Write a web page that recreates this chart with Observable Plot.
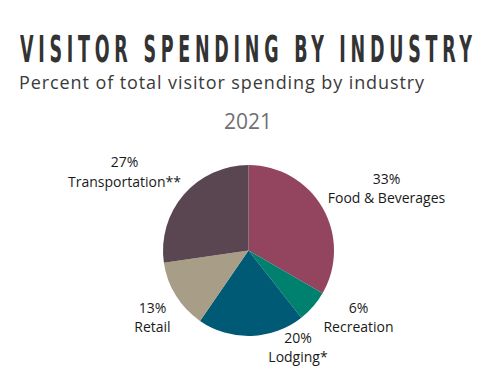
<!DOCTYPE html>
<html><head><meta charset="utf-8">
<script src="https://cdn.jsdelivr.net/npm/d3@7"></script>
<script src="https://cdn.jsdelivr.net/npm/@observablehq/plot@0.6"></script>
<style>
html,body{margin:0;padding:0;background:#fff}
body{width:488px;height:388px;overflow:hidden;position:relative}
.t{position:absolute;white-space:nowrap;line-height:1}
#title{left:20px;top:30.7px;font-family:"DejaVu Sans Condensed","DejaVu Sans",sans-serif;font-stretch:condensed;font-weight:bold;font-size:37px;letter-spacing:9px;color:#333;transform-origin:0 0}
#sub{left:19px;top:73px;font-family:"Open Sans";font-size:18px;color:#3a3a3a}
#year{left:0;width:496px;text-align:center;top:111px;font-family:"Open Sans";font-size:21px;color:#707070}
#chart{position:absolute;left:0;top:140px}
</style></head><body>
<div id="title" class="t">VISITOR SPENDING BY INDUSTRY</div>
<div id="sub" class="t">Percent of total visitor spending by industry</div>
<div id="year" class="t">2021</div>
<div id="chart"></div>
<script>
// data
const industries = ["Food & Beverages", "Recreation", "Lodging*", "Retail", "Transportation**"];
const shares = [33, 6, 20, 13, 27];
const colors = ["#93455f", "#00806f", "#005a75", "#a89e87", "#594650"];
// label anchor layout (pie units: center 0,0, radius 1)
const labelX = [1.608, 1.281, 0.573, -1.129, -1.456];
const labelY = [0.950, -0.560, -0.910, -0.560, 1.140];

const rows = industries.map((name, i) => ({name, share: shares[i], lx: labelX[i], ly: labelY[i]}));

function pieMark(index, scales, values, dimensions, context) {
  const x = scales.x, y = scales.y;
  const cx = x(0), cy = y(0), r = x(1) - x(0);
  const color = scales.color || d3.scaleOrdinal(industries, colors);
  const arcs = d3.pie().sort(null).value(d => d.share)(rows);
  const arc = d3.arc().innerRadius(0).outerRadius(r);
  const g = d3.create("svg:g").attr("transform", `translate(${cx},${cy})`);
  g.selectAll("path").data(arcs).join("path")
    .attr("d", arc)
    .attr("fill", d => color(d.data.name));
  return g.node();
}

const chart = Plot.plot({
  width: 488,
  height: 248,
  margin: 0,
  style: {background: "transparent", overflow: "visible"},
  x: {domain: [-1, 1], range: [163, 334], axis: null},
  y: {domain: [-1, 1], range: [196, 25], axis: null},
  marks: [
    pieMark,
    Plot.text(rows, {
      x: "lx", y: "ly",
      text: d => `${d.share}%\n${d.name}`,
      lineAnchor: "top",
      lineHeight: 1.4,
      fontSize: 14,
      fontFamily: "Open Sans",
      fill: "#1a1a1a",
      textAnchor: "middle"
    })
  ]
});
document.getElementById("chart").appendChild(chart);

// fit title width
const t = document.getElementById("title");
const w = t.getBoundingClientRect().width - 9;
t.style.transform = `scaleX(${452 / w})`;
// subtitle spacing to match width
const s = document.getElementById("sub");
const sw = s.getBoundingClientRect().width;
const n = s.textContent.length;
s.style.letterSpacing = ((406 - sw) / n) + "px";
</script>
</body></html>
